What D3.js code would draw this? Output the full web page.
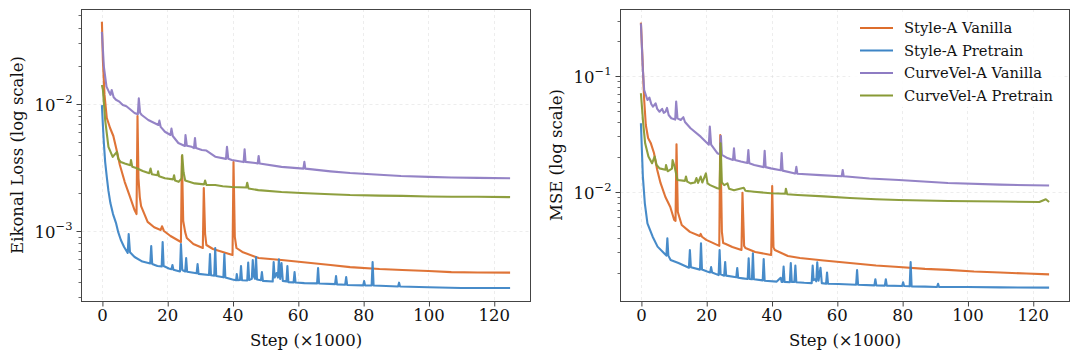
<!DOCTYPE html>
<html>
<head>
<meta charset="utf-8">
<script src="https://cdn.jsdelivr.net/npm/d3@7"></script>
<style>
  body { margin: 0; background: #fff; }
  svg { display: block; font-family: "DejaVu Serif", serif; }
</style>
</head>
<body>
<div id="chart"></div>
<script>
// x axis (training step, thousands)
const xTicks = [0, 20, 40, 60, 80, 100, 120];
const seriesNames = ["Style-A Vanilla", "Style-A Pretrain", "CurveVel-A Vanilla", "CurveVel-A Pretrain"];
const seriesColors = ["#dd6d2c", "#3d85c6", "#8e7cc3", "#889a35"];

// Eikonal loss curves: [step (x1000), loss]
const eikStyleVanilla = [[0,0.0445],[0.3,0.0222],[0.8,0.0118],[1.5,0.00776],[2.5,0.00647],[3.5,0.0056],[4.5,0.00435],[5.5,0.00331],[7,0.00243],[8.5,0.00189],[10,0.00146],[10.6,0.00136],[10.9,0.00805],[11.2,0.0026],[11.6,0.00185],[12,0.00157],[14,0.00118],[16,0.00107],[18,0.00102],[18.4,0.00109],[19,0.001],[21,0.000914],[24.2,0.000819],[24.5,0.0039],[24.9,0.0012],[25.5,0.00098],[26,0.000881],[28,0.00079],[30.9,0.000735],[31.2,0.00218],[31.6,0.00095],[32,0.000776],[34,0.000722],[37,0.000684],[40,0.000647],[40.3,0.00349],[40.7,0.0009],[41.2,0.000735],[43,0.000684],[48,0.000613],[55,0.000591],[61,0.00057],[70,0.00054],[76,0.00052],[85,0.000502],[92,0.000493],[100,0.000484],[107,0.000475],[115,0.000471],[125,0.00047]];
const eikStylePretrain = [[0,0.0098],[0.3,0.00684],[0.6,0.00493],[1,0.00349],[1.5,0.00266],[2,0.00207],[2.6,0.00166],[3.4,0.00136],[4.3,0.00116],[5,0.00098],[5.8,0.00085],[6.8,0.000748],[7.9,0.000672],[8.2,0.000946],[8.6,0.00068],[10,0.000624],[12.4,0.000575],[14.8,0.000555],[15.1,0.000762],[15.4,0.00055],[17,0.00053],[18.3,0.000525],[18.6,0.000819],[18.9,0.00053],[20.5,0.000507],[21.3,0.0005],[21.6,0.00054],[21.9,0.000495],[23.9,0.00048],[24.2,0.00079],[24.6,0.000493],[25.5,0.00048],[25.8,0.000613],[26.1,0.000478],[29,0.000465],[29.3,0.00055],[29.6,0.00046],[32.8,0.00045],[33.1,0.000659],[33.4,0.000448],[34.4,0.000445],[34.7,0.000735],[35,0.000442],[37.2,0.000432],[37.5,0.000659],[37.8,0.00043],[40,0.000415],[41.1,0.00041],[41.3,0.000458],[41.6,0.00041],[42.3,0.000412],[42.6,0.00053],[42.9,0.00041],[44.5,0.000408],[44.8,0.000565],[45.1,0.000412],[45.9,0.00042],[46.2,0.000591],[46.5,0.00044],[46.9,0.00042],[47.2,0.000624],[47.5,0.000415],[48.7,0.00041],[49,0.000475],[49.3,0.000405],[52.3,0.0004],[52.6,0.00057],[52.9,0.00043],[53.5,0.000467],[53.9,0.00043],[54.2,0.0006],[54.6,0.00042],[55,0.00056],[55.4,0.000405],[56.5,0.0004],[56.8,0.00053],[57.1,0.000396],[58.7,0.000394],[59,0.000475],[59.3,0.000393],[62,0.000389],[65.9,0.000387],[66.2,0.000511],[66.5,0.000386],[71.4,0.000382],[71.7,0.000442],[72,0.00038],[74.5,0.000378],[74.8,0.000434],[75.1,0.000376],[80,0.000373],[80.3,0.000403],[80.6,0.000372],[82.6,0.000372],[82.9,0.00057],[83.2,0.000372],[87,0.000369],[90.7,0.000366],[91,0.000392],[91.3,0.000366],[100,0.000361],[110,0.000356],[125,0.000356]];
const eikCurveVanilla = [[0,0.037],[0.6,0.0197],[1.4,0.0137],[2.6,0.0118],[3,0.0129],[3.6,0.0113],[4.3,0.0108],[5.2,0.0105],[6.4,0.0098],[7.5,0.0096],[8.9,0.00897],[10,0.00849],[11,0.0083],[11.3,0.0111],[11.7,0.0085],[12.2,0.00819],[14.2,0.00748],[17.3,0.00684],[17.6,0.0074],[18,0.0066],[19.3,0.00605],[21,0.0057],[21.3,0.0064],[21.7,0.0056],[23.4,0.00493],[25.4,0.00467],[25.6,0.0057],[26,0.0047],[27.5,0.0046],[28.2,0.0045],[28.5,0.0054],[28.8,0.0045],[30.6,0.00435],[32,0.0043],[34.7,0.00385],[38,0.0037],[38.3,0.0046],[38.7,0.0037],[39.8,0.00362],[43.4,0.00349],[43.7,0.0044],[44,0.0035],[47,0.00343],[47.7,0.0034],[48,0.0039],[48.3,0.0034],[55,0.0032],[61.7,0.0031],[62,0.0035],[62.3,0.0031],[70,0.00295],[76,0.00286],[85,0.00277],[91.6,0.00271],[100,0.00267],[107,0.00264],[115,0.00262],[125,0.0026]];
const eikCurvePretrain = [[0,0.0141],[0.3,0.013],[1,0.00748],[2,0.0046],[3.3,0.00383],[4.6,0.0042],[5,0.0037],[5.8,0.00349],[7,0.0034],[8.7,0.0033],[8.9,0.00362],[9.3,0.0032],[10.5,0.00313],[12.5,0.00297],[14.5,0.00285],[14.9,0.0031],[15.3,0.0028],[17,0.00275],[17.2,0.00295],[17.5,0.0027],[19.3,0.0026],[21.8,0.00255],[22.1,0.00275],[22.4,0.0025],[23.5,0.00244],[24.4,0.0026],[24.6,0.00397],[25,0.0029],[25.5,0.0025],[28.4,0.00237],[31.3,0.00233],[31.6,0.0025],[32,0.0023],[34.7,0.0023],[37,0.00225],[39.8,0.00222],[44.2,0.0022],[44.5,0.0024],[44.9,0.00216],[47.9,0.0021],[55,0.00203],[61,0.00199],[70,0.00195],[76,0.00192],[85,0.0019],[92,0.00189],[100,0.00187],[107,0.00186],[115,0.00186],[125,0.00185]];

// MSE curves: [step (x1000), mse]
const mseStyleVanilla = [[0,0.289],[0.5,0.137],[1,0.062],[1.5,0.0377],[2.2,0.0291],[3,0.0264],[4,0.0216],[5,0.0154],[6,0.0119],[7.5,0.00899],[9,0.00738],[10.2,0.00569],[10.6,0.00558],[10.9,0.0257],[11.3,0.00668],[12.5,0.00515],[15,0.00449],[18,0.00414],[18.3,0.00431],[18.7,0.00408],[20,0.00383],[24,0.0034],[24.3,0.0309],[24.8,0.0045],[25.2,0.0036],[26,0.00353],[28,0.00333],[30.8,0.00313],[31.1,0.0098],[31.6,0.0034],[32,0.00326],[35,0.00301],[39.9,0.00284],[40.2,0.0112],[40.6,0.0033],[41,0.00313],[45,0.00278],[48.7,0.00267],[56,0.00254],[64,0.00242],[72,0.0023],[79,0.00223],[87,0.00215],[94,0.00211],[102,0.00204],[110,0.002],[118,0.00196],[125,0.00193]];
const mseStylePretrain = [[0,0.039],[0.3,0.0229],[0.6,0.0135],[1.2,0.00794],[2,0.00533],[3.6,0.00408],[5.1,0.00335],[7.1,0.00294],[7.8,0.0028],[8.1,0.00395],[8.4,0.0028],[9.1,0.00257],[11.5,0.00242],[14.7,0.0022],[15,0.00313],[15.3,0.00222],[18.1,0.00212],[18.4,0.00358],[18.7,0.00212],[20.3,0.00204],[21.2,0.002],[21.5,0.00223],[21.8,0.002],[23.8,0.0019],[24.1,0.00313],[24.4,0.00193],[25.5,0.00188],[25.8,0.00247],[26.1,0.00188],[29.2,0.00182],[29.5,0.00219],[29.8,0.0018],[31.2,0.00178],[32.7,0.00176],[33,0.00266],[33.3,0.00176],[34,0.00175],[34.3,0.00294],[34.6,0.00175],[37.3,0.00171],[37.6,0.00262],[37.9,0.0017],[41.6,0.00167],[42.8,0.0018],[43.1,0.00166],[43.4,0.00166],[43.7,0.00225],[44,0.00166],[45.6,0.00165],[45.9,0.00241],[46.2,0.00166],[47,0.00166],[47.3,0.0023],[47.6,0.00165],[50,0.00163],[52.3,0.00162],[52.6,0.0023],[52.9,0.00172],[53.4,0.00175],[53.7,0.00168],[54,0.00245],[54.4,0.0017],[55,0.0022],[55.4,0.00162],[56.7,0.0016],[57,0.002],[57.3,0.0016],[60.5,0.00159],[65.9,0.00157],[66.2,0.0021],[66.5,0.00157],[71.5,0.00155],[71.8,0.00175],[72.1,0.00155],[74.7,0.00154],[75,0.00175],[75.3,0.00154],[80,0.00153],[80.3,0.00165],[80.6,0.00153],[82.3,0.00152],[82.6,0.00247],[82.9,0.00152],[87,0.00151],[90.7,0.0015],[91,0.0016],[91.3,0.0015],[100,0.0015],[110,0.00149],[125,0.00148]];
const mseCurveVanilla = [[0,0.285],[0.6,0.113],[1,0.0757],[2,0.062],[2.6,0.065],[3.2,0.057],[3.7,0.0543],[4.5,0.058],[5,0.052],[5.7,0.0491],[6.5,0.052],[7,0.048],[7.5,0.049],[8,0.053],[8.5,0.046],[9.3,0.0431],[10.5,0.042],[10.8,0.06],[11.2,0.043],[12.2,0.0417],[13,0.044],[13.5,0.04],[15.2,0.0353],[18.3,0.0299],[20.8,0.0255],[21.1,0.0365],[21.5,0.0255],[23.4,0.0215],[24.2,0.021],[24.5,0.0303],[24.8,0.0208],[26.5,0.0195],[28.2,0.0188],[28.5,0.0237],[28.8,0.0188],[30.6,0.0182],[32.6,0.0177],[32.9,0.0229],[33.2,0.0176],[34.7,0.017],[37.6,0.0163],[37.9,0.0226],[38.2,0.0163],[39.8,0.0159],[42.8,0.0153],[43.1,0.0216],[43.4,0.0152],[46.9,0.0144],[47.3,0.0144],[47.6,0.0164],[47.9,0.0143],[55,0.0139],[61.5,0.0136],[61.8,0.0154],[62.1,0.0136],[70,0.013],[79,0.0126],[94,0.0119],[110,0.0115],[125,0.0113]];
const mseCurvePretrain = [[0,0.0709],[0.7,0.039],[1.3,0.0262],[2.3,0.0201],[3.4,0.0176],[4.2,0.0201],[4.8,0.017],[5.7,0.0159],[7.5,0.0155],[7.7,0.017],[8.2,0.015],[9.5,0.0158],[9.7,0.0188],[10.3,0.0165],[11.2,0.0126],[13.5,0.0124],[13.8,0.0135],[14.2,0.0122],[15.2,0.0118],[16.5,0.012],[17,0.0131],[17.5,0.0119],[18.3,0.0135],[18.8,0.012],[19.9,0.0144],[20.4,0.0118],[21.2,0.0114],[23.4,0.0107],[24.1,0.0106],[24.4,0.0262],[24.8,0.012],[25.5,0.0114],[26.5,0.0118],[27,0.0106],[28.5,0.0103],[31.5,0.0108],[32,0.0102],[34.7,0.01],[39.8,0.00968],[44.2,0.0096],[44.4,0.0106],[44.8,0.0095],[48,0.00936],[56,0.0091],[64,0.00883],[72,0.0086],[79,0.00848],[94,0.0083],[110,0.00822],[122,0.00815],[124,0.0086],[125,0.00815]];

const width = 1079, height = 359;
const plotTop = 9, plotBottom = 301;
const xDomain = [-6.25, 131.25];
const fontSize = 16.5;

const svg = d3.select("#chart").append("svg")
    .attr("width", width)
    .attr("height", height)
    .style("background-color", "white");

const drawPanel = (p) => {
    const x = d3.scaleLinear().domain(xDomain).range([p.left, p.right]);
    const y = d3.scaleLog().domain(p.yDomain).range([plotBottom, plotTop]);
    const g = svg.append("g");

    const yTicks = y.ticks().filter(v => v >= p.yDomain[0] && v <= p.yDomain[1]);
    const isMajor = v => Math.abs(Math.log10(v) - Math.round(Math.log10(v))) < 1e-6;
    const yMajor = yTicks.filter(isMajor);
    const yMinor = yTicks.filter(v => !isMajor(v));
    const px = v => Math.round(x(v)) + 0.5;
    const py = v => Math.round(y(v)) + 0.5;

    // dashed grid on major ticks
    g.selectAll(".vgrid").data(xTicks).enter().append("line")
        .attr("x1", px).attr("x2", px)
        .attr("y1", plotTop).attr("y2", plotBottom)
        .attr("stroke", "#d4d4d4").attr("stroke-width", 0.8)
        .attr("stroke-dasharray", "3,3").attr("opacity", 0.5);
    g.selectAll(".hgrid").data(yMajor).enter().append("line")
        .attr("x1", p.left).attr("x2", p.right)
        .attr("y1", py).attr("y2", py)
        .attr("stroke", "#d4d4d4").attr("stroke-width", 0.8)
        .attr("stroke-dasharray", "3,3").attr("opacity", 0.5);

    // curves
    const line = d3.line()
        .x(d => x(d[0]))
        .y(d => y(d[1]));
    p.series.forEach((s, i) => {
        g.append("path")
            .datum(s)
            .attr("d", line)
            .attr("fill", "none")
            .attr("stroke", seriesColors[i])
            .attr("stroke-width", 2.1)
            .attr("stroke-linejoin", "round")
            .attr("opacity", 0.95);
    });

    // frame
    g.append("rect")
        .attr("x", p.left).attr("y", plotTop + 0.5)
        .attr("width", p.right - p.left).attr("height", plotBottom - plotTop)
        .attr("fill", "none").attr("stroke", "#444").attr("stroke-width", 1);

    // x ticks and labels
    const xAxis = g.append("g")
        .attr("transform", `translate(0,${plotBottom + 0.5})`)
        .call(d3.axisBottom(x).tickValues(xTicks).tickSize(5).tickPadding(3))
    xAxis.select(".domain").remove();
    xAxis.selectAll("line").attr("stroke", "#444").attr("transform", "translate(0.5,0)");
    xAxis.selectAll("text")
        .style("font-family", "DejaVu Serif")
        .style("font-size", fontSize + "px")
        .attr("fill", "#111");

    // y ticks
    g.selectAll(".minor").data(yMinor).enter().append("line")
        .attr("x1", p.left - 3).attr("x2", p.left)
        .attr("y1", py).attr("y2", py)
        .attr("stroke", "#444").attr("stroke-width", 0.8);
    g.selectAll(".major").data(yMajor).enter().append("line")
        .attr("x1", p.left - 5).attr("x2", p.left)
        .attr("y1", py).attr("y2", py)
        .attr("stroke", "#444").attr("stroke-width", 1);
    const labels = g.selectAll(".ylab").data(yMajor).enter().append("text")
        .attr("x", p.left - 9)
        .attr("y", d => y(d) + 7)
        .attr("text-anchor", "end")
        .attr("fill", "#111");
    labels.append("tspan").style("font-size", fontSize + "px").text("10");
    labels.append("tspan").style("font-size", "11.5px").attr("dy", -8)
        .text(d => "\u2212" + Math.round(-Math.log10(d)));

    // axis titles
    g.append("text")
        .attr("x", (p.left + p.right) / 2).attr("y", 346)
        .attr("text-anchor", "middle")
        .style("font-size", fontSize + "px").attr("fill", "#111")
        .text("Step (\u00d71000)");
    g.append("text")
        .attr("transform", `translate(${p.ylabelX},${(plotTop + plotBottom) / 2}) rotate(-90)`)
        .attr("text-anchor", "middle")
        .style("font-size", fontSize + "px").attr("fill", "#111")
        .text(p.ylabel);

    return { x, y, g };
};

drawPanel({
    left: 81.5, right: 530.5,
    yDomain: [Math.pow(10, -3.551), Math.pow(10, -1.252)],
    ylabel: "Eikonal Loss (log scale)", ylabelX: 23,
    series: [eikStyleVanilla, eikStylePretrain, eikCurveVanilla, eikCurvePretrain]
});

drawPanel({
    left: 620.5, right: 1069.5,
    yDomain: [Math.pow(10, -2.945), Math.pow(10, -0.421)],
    ylabel: "MSE (log scale)", ylabelX: 562,
    series: [mseStyleVanilla, mseStylePretrain, mseCurveVanilla, mseCurvePretrain]
});

// legend in the right panel
const legend = svg.append("g");
legend.append("rect")
    .attr("x", 850).attr("y", 15)
    .attr("width", 214).attr("height", 92)
    .attr("fill", "white").attr("opacity", 0.85);
seriesNames.forEach((name, i) => {
    const ly = 28 + i * 22.5;
    legend.append("line")
        .attr("x1", 860).attr("x2", 893)
        .attr("y1", ly).attr("y2", ly)
        .attr("stroke", seriesColors[i]).attr("stroke-width", 2);
    legend.append("text")
        .attr("x", 904).attr("y", ly + 5)
        .style("font-size", "14.7px").attr("fill", "#111")
        .text(name);
});
</script>
</body>
</html>
